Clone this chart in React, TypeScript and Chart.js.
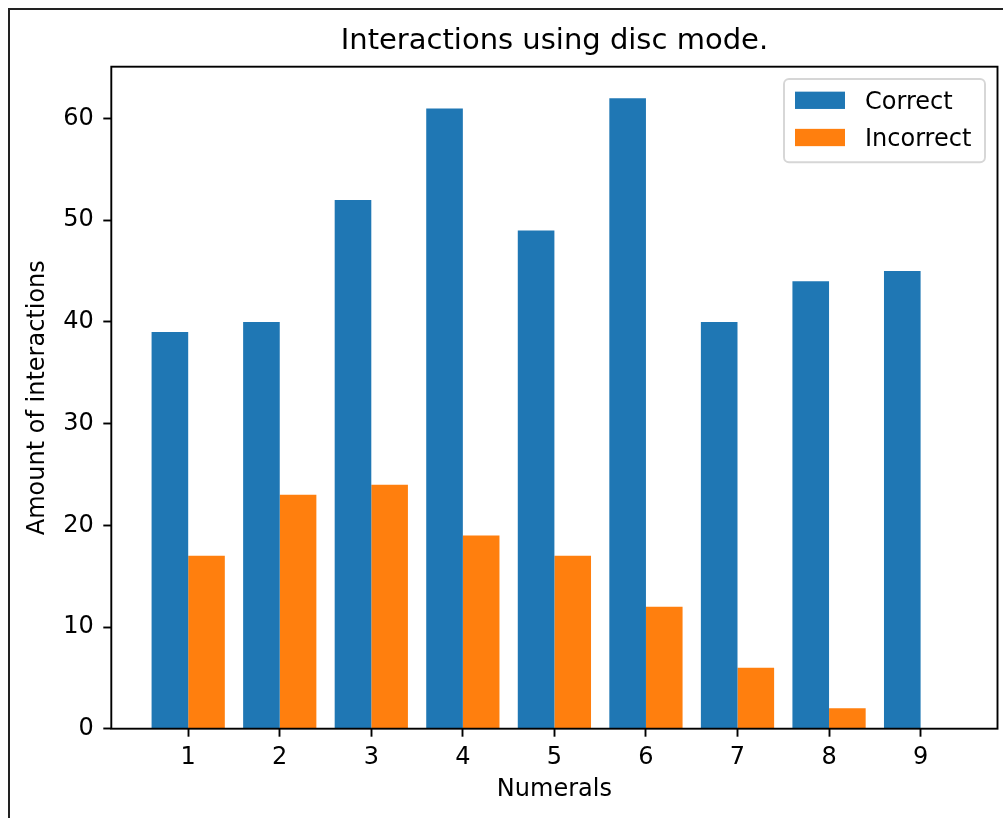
import React, { useEffect, useRef } from "react";
import { Chart, registerables } from "chart.js";

Chart.register(...registerables);

const categories = [1, 2, 3, 4, 5, 6, 7, 8, 9];
const correctValues = [39, 40, 52, 61, 49, 62, 40, 44, 45];
const incorrectValues = [17, 23, 24, 19, 17, 12, 6, 2, 0];
const yTicks = [0, 10, 20, 30, 40, 50, 60];
const seriesLabels = ["Correct", "Incorrect"];
const seriesColors = ["#1f77b4", "#ff7f0e"];
const titleText = "Interactions using disc mode.";
const xTitle = "Numerals";
const yTitle = "Amount of interactions";

const FAMILY = "'DejaVu Sans', sans-serif";

export default function App() {
  const ref = useRef<HTMLCanvasElement>(null);

  useEffect(() => {
    const canvas = ref.current;
    if (!canvas) return;

    const spinePlugin = {
      id: "spines",
      afterDatasetsDraw(chart: any) {
        const { ctx, chartArea: a } = chart;
        ctx.save();
        ctx.strokeStyle = "#000";
        ctx.lineWidth = 1.9;
        ctx.strokeRect(a.left, a.top, a.right - a.left, a.bottom - a.top);
        ctx.restore();
      },
    };

    const legendPlugin = {
      id: "mplLegend",
      afterDraw(chart: any) {
        const { ctx, chartArea: a } = chart;
        const boxRight = a.right - 12.5;
        const boxTop = a.top + 12.3;
        const w = 201;
        const h = 83.3;
        const boxLeft = boxRight - w;
        const r = 5;
        ctx.save();
        ctx.beginPath();
        ctx.moveTo(boxLeft + r, boxTop);
        ctx.lineTo(boxRight - r, boxTop);
        ctx.arcTo(boxRight, boxTop, boxRight, boxTop + r, r);
        ctx.lineTo(boxRight, boxTop + h - r);
        ctx.arcTo(boxRight, boxTop + h, boxRight - r, boxTop + h, r);
        ctx.lineTo(boxLeft + r, boxTop + h);
        ctx.arcTo(boxLeft, boxTop + h, boxLeft, boxTop + h - r, r);
        ctx.lineTo(boxLeft, boxTop + r);
        ctx.arcTo(boxLeft, boxTop, boxLeft + r, boxTop, r);
        ctx.closePath();
        ctx.fillStyle = "rgba(255,255,255,0.8)";
        ctx.fill();
        ctx.strokeStyle = "#d6d6d6";
        ctx.lineWidth = 1.9;
        ctx.stroke();

        const rowCenters = [boxTop + 21.3, boxTop + 58.5];
        ctx.font = `24px ${FAMILY}`;
        ctx.textAlign = "left";
        ctx.textBaseline = "alphabetic";
        chart.data.datasets.forEach((ds: any, i: number) => {
          const cy = rowCenters[i];
          ctx.fillStyle = ds.backgroundColor;
          ctx.fillRect(boxLeft + 11, cy - 8.65, 50, 17.3);
          ctx.fillStyle = "#000";
          ctx.fillText(ds.label, boxLeft + 81, cy + 8.75);
        });
        ctx.restore();
      },
    };

    const gridOpts = {
      display: true,
      drawOnChartArea: false,
      drawTicks: true,
      tickLength: 8,
      tickWidth: 1.9,
      tickColor: "#000",
      offset: false,
    };

    const chart = new Chart(canvas, {
      type: "bar",
      data: {
        datasets: [
          {
            label: seriesLabels[0],
            data: categories.map((c, i) => ({ x: c, y: correctValues[i] })),
            backgroundColor: seriesColors[0],
            borderWidth: 0,
            categoryPercentage: 0.8,
            barPercentage: 1,
          },
          {
            label: seriesLabels[1],
            data: categories.map((c, i) => ({ x: c, y: incorrectValues[i] })),
            backgroundColor: seriesColors[1],
            borderWidth: 0,
            categoryPercentage: 0.8,
            barPercentage: 1,
          },
        ],
      },
      options: {
        responsive: false,
        animation: false,
        devicePixelRatio: 1,
        layout: { padding: { left: 0, right: 5.5, top: 0, bottom: 0 } },
        plugins: {
          legend: { display: false },
          tooltip: { enabled: false },
          title: {
            display: true,
            text: titleText,
            fullSize: false,
            color: "#000",
            font: { family: FAMILY, size: 29, weight: "normal", lineHeight: 1.2 },
            padding: { top: 23.6, bottom: 8.3 },
          },
        },
        scales: {
          x: {
            type: "linear",
            min: 0.16,
            max: 9.84,
            offset: false,
            afterBuildTicks: (s: any) => {
              s.ticks = categories.map((v) => ({ value: v }));
            },
            afterFit: (s: any) => {
              s.height = 89.3;
            },
            grid: gridOpts,
            border: { display: false },
            ticks: {
              color: "#000",
              font: { family: FAMILY, size: 24 },
              padding: 7,
              maxRotation: 0,
              autoSkip: false,
              callback: (v: any) => String(v),
            },
            title: {
              display: true,
              text: xTitle,
              color: "#000",
              font: { family: FAMILY, size: 24, lineHeight: 1.2 },
              padding: { top: 0, bottom: 13.4 },
            },
          },
          y: {
            type: "linear",
            min: 0,
            max: 65.1,
            afterBuildTicks: (s: any) => {
              s.ticks = yTicks.map((v) => ({ value: v }));
            },
            afterFit: (s: any) => {
              s.width = 111.3;
            },
            grid: gridOpts,
            border: { display: false },
            ticks: {
              color: "#000",
              font: { family: FAMILY, size: 24 },
              padding: 9.5,
              callback: (v: any) => String(v),
            },
            title: {
              display: true,
              text: yTitle,
              color: "#000",
              font: { family: FAMILY, size: 24, lineHeight: 1.2 },
              padding: { top: 23.8, bottom: 0 },
            },
          },
        },
      },
      plugins: [spinePlugin, legendPlugin],
    } as any);

    return () => chart.destroy();
  }, []);

  return (
    <div
      style={{
        position: "absolute",
        left: 0,
        top: 0,
        width: 1003,
        height: 818,
        overflow: "hidden",
        background: "#fff",
      }}
    >
      <div
        style={{
          position: "absolute",
          left: 8,
          top: 8,
          width: 1100,
          height: 900,
          borderLeft: "2px solid #222",
          borderTop: "2px solid #222",
          boxSizing: "border-box",
        }}
      />
      <canvas
        ref={ref}
        width={1003}
        height={818}
        style={{ position: "absolute", left: 0, top: 0, width: 1003, height: 818 }}
      />
    </div>
  );
}
